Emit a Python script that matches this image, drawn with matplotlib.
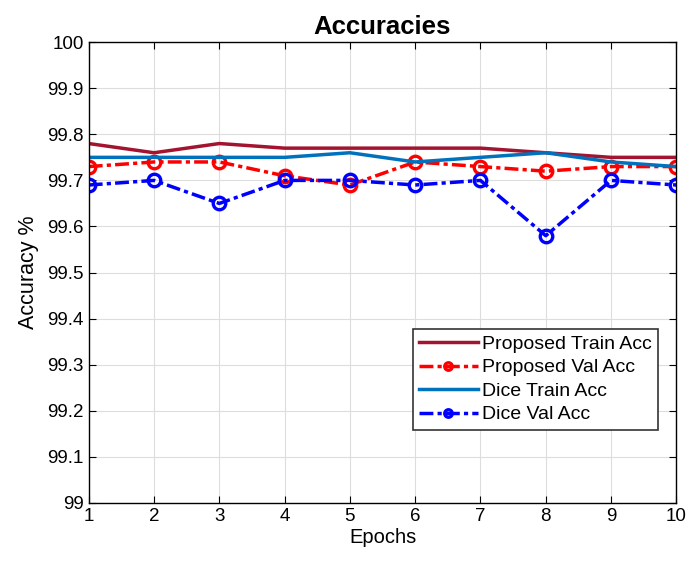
import matplotlib
matplotlib.use("Agg")
import matplotlib.pyplot as plt

plt.rcParams['font.family'] = ['Liberation Sans', 'DejaVu Sans']

epochs = [1, 2, 3, 4, 5, 6, 7, 8, 9, 10]
proposed_train = [99.78, 99.76, 99.78, 99.77, 99.77, 99.77, 99.77, 99.76, 99.75, 99.75]
proposed_val = [99.73, 99.74, 99.74, 99.71, 99.69, 99.74, 99.73, 99.72, 99.73, 99.73]
dice_train = [99.75, 99.75, 99.75, 99.75, 99.76, 99.74, 99.75, 99.76, 99.74, 99.73]
dice_val = [99.69, 99.70, 99.65, 99.70, 99.70, 99.69, 99.70, 99.58, 99.70, 99.69]

fig = plt.figure(figsize=(6.88, 5.62), dpi=100)
ax = fig.add_axes([0.129, 0.105, 0.854, 0.820])

dash = (4, 1.2, 1.2, 1.2)
ax.plot(epochs, proposed_train, color='#A2142F', lw=2.5, label='Proposed Train Acc')
ax.plot(epochs, proposed_val, color='red', lw=2.5, ls=(0, dash), marker='o', ms=9,
        mfc='none', mew=2.4, label='Proposed Val Acc')
ax.plot(epochs, dice_train, color='#0072BD', lw=2.5, label='Dice Train Acc')
ax.plot(epochs, dice_val, color='blue', lw=2.5, ls=(0, dash), marker='o', ms=9,
        mfc='none', mew=2.4, label='Dice Val Acc')

ax.set_xlim(1, 10)
ax.set_ylim(99, 100)
ax.set_xticks(epochs)
ax.set_yticks([99 + i / 10 for i in range(11)])
ax.set_yticklabels(['99', '99.1', '99.2', '99.3', '99.4', '99.5', '99.6', '99.7', '99.8', '99.9', '100'])
ax.tick_params(direction='in', top=True, right=True, labelsize=13.5, length=5)
ax.grid(True, color='#dddddd', lw=0.8)
for s in ax.spines.values():
    s.set_linewidth(1.0)

ax.set_xlabel('Epochs', fontsize=14.5, labelpad=2)
ax.set_ylabel('Accuracy %', fontsize=15.5, labelpad=6)
ax.set_title('Accuracies', fontsize=18.5, fontweight='bold', pad=6)

leg = ax.legend(loc='lower right', bbox_to_anchor=(0.969, 0.158), fontsize=14,
                fancybox=False, framealpha=1, edgecolor='#333333',
                borderpad=0.35, labelspacing=0.3, handlelength=3.0, handletextpad=0.2,
                borderaxespad=0, markerscale=0.6)
leg.get_frame().set_linewidth(1.2)

fig.savefig('out.png', dpi=100)
